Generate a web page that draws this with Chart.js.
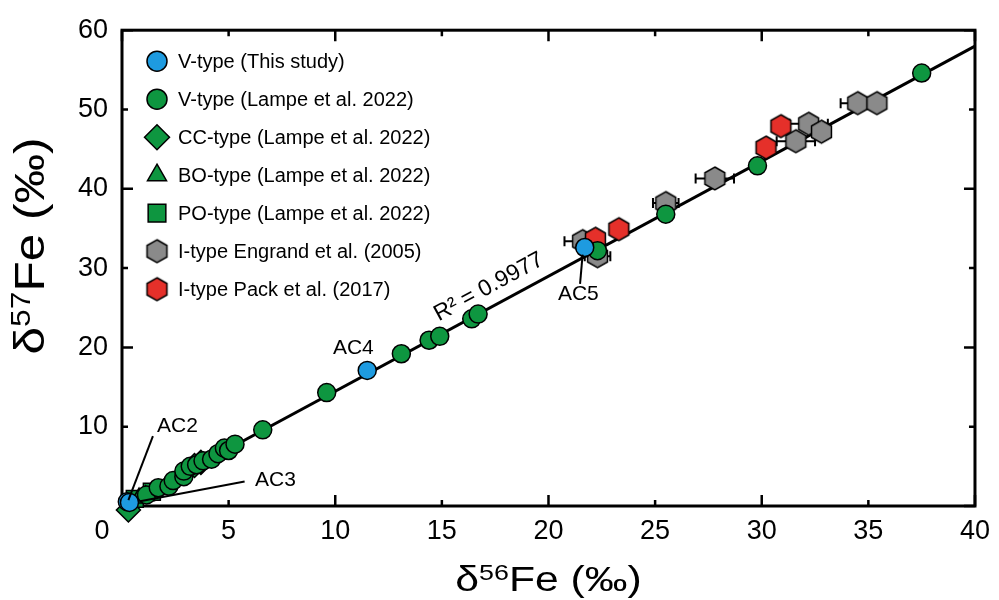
<!DOCTYPE html>
<html><head><meta charset="utf-8">
<script src="https://cdn.jsdelivr.net/npm/chart.js@4.4.1/dist/chart.umd.min.js"></script>
<style>html,body{margin:0;padding:0;background:#fff;}#wrap{width:999px;height:600px;}</style>
</head><body><div id="wrap"><canvas id="c" width="999" height="600"></canvas></div>
<script>
// ---- data ----
const seriesNames = ['V-type (This study)','V-type (Lampe et al. 2022)','CC-type (Lampe et al. 2022)','BO-type (Lampe et al. 2022)','PO-type (Lampe et al. 2022)','I-type Engrand et al. (2005)','I-type Pack et al. (2017)'];
const blueX = [0.25, 0.35, 11.5, 21.7];
const blueY = [0.55, 0.45, 17.1, 32.6];
const greenX = [1.15, 1.7, 2.2, 2.4, 2.9, 2.9, 3.2, 3.5, 3.8, 4.2, 4.5, 4.8, 5.0, 5.3, 6.6, 9.6, 13.1, 14.4, 14.9, 16.4, 16.7, 22.3, 25.5, 29.8, 37.5];
const greenY = [1.4, 2.3, 2.5, 3.2, 3.7, 4.4, 5.0, 5.2, 5.7, 5.9, 6.6, 7.3, 7.0, 7.8, 9.6, 14.3, 19.2, 20.9, 21.4, 23.6, 24.2, 32.2, 36.8, 42.9, 54.6];
const ccX = [0.3, 3.4, 3.7];
const ccY = [-0.5, 5.1, 5.5];
const boX = [0.8, 1.1];
const boY = [1.0, 1.3];
const poX = [0.6, 1.4];
const poY = [0.9, 1.8];
const grayX = [21.6, 22.3, 25.5, 27.8, 31.6, 32.2, 32.8, 34.5, 35.4];
const grayY = [33.4, 31.5, 38.2, 41.3, 46.0, 48.2, 47.2, 50.8, 50.8];
const grayErr = [0.85, 0.6, 0.6, 0.9, 0.9, 0.9, 0.3, 0.8, 0.3];
const redX = [22.2, 23.3, 30.2, 30.9];
const redY = [33.7, 34.9, 45.2, 47.9];
const trendX = [0.2, 40];
const trendY = [0.25, 58.0];
const xTickStep = 5, yTickStep = 10;
const r2Text = 'R² = 0.9977';
const xTitleParts = ['δ', '56', 'Fe (‰)'];
const yTitleParts = ['δ', '57', 'Fe (‰)'];

// ---- presentation ----
const FONT = "'Liberation Sans', Arial, Helvetica, sans-serif";
const C_BLUE = '#1E9BE0', C_GREEN = '#0E9640', C_GRAY = '#8A8A8A', C_RED = '#E5302A';
const pts = (xs, ys) => xs.map((x, i) => ({x, y: ys[i]}));

function hexImage(fill, r) {
  const s = Math.ceil(2 * r + 4);
  const c = document.createElement('canvas');
  c.width = s; c.height = s;
  const g = c.getContext('2d');
  g.beginPath();
  for (let i = 0; i < 6; i++) {
    const a = -Math.PI / 2 + i * Math.PI / 3;
    g.lineTo(s / 2 + r * Math.cos(a), s / 2 + r * Math.sin(a));
  }
  g.closePath();
  g.fillStyle = fill; g.fill();
  g.lineWidth = 1.5; g.strokeStyle = '#000'; g.stroke();
  return c;
}
const hexGray = hexImage(C_GRAY, 11.5);
const hexRed = hexImage(C_RED, 11.5);

const pointBase = {borderColor: '#000', borderWidth: 1.5, clip: false, showLine: false};
const datasets = [
  Object.assign({label: seriesNames[0], data: pts(blueX, blueY), pointStyle: 'circle', pointRadius: 9, backgroundColor: C_BLUE, order: 1}, pointBase),
  Object.assign({label: seriesNames[1], data: pts(greenX, greenY), pointStyle: 'circle', pointRadius: 9, backgroundColor: C_GREEN, order: 2}, pointBase),
  Object.assign({label: seriesNames[2], data: pts(ccX, ccY), pointStyle: 'rectRot', pointRadius: 12, backgroundColor: C_GREEN, order: 3}, pointBase),
  Object.assign({label: seriesNames[3], data: pts(boX, boY), pointStyle: 'triangle', pointRadius: 10, backgroundColor: C_GREEN, order: 4}, pointBase),
  Object.assign({label: seriesNames[4], data: pts(poX, poY), pointStyle: 'rect', pointRadius: 12, backgroundColor: C_GREEN, order: 5}, pointBase),
  Object.assign({label: seriesNames[5], data: pts(grayX, grayY), pointStyle: hexGray, pointRadius: 11, backgroundColor: C_GRAY, order: 7}, pointBase),
  Object.assign({label: seriesNames[6], data: pts(redX, redY), pointStyle: hexRed, pointRadius: 11, backgroundColor: C_RED, order: 6}, pointBase),
  {label: 'fit', data: pts(trendX, trendY), showLine: true, pointRadius: 0, borderColor: '#000', borderWidth: 3, fill: false, order: 100, clip: false}
];

// annotation anchors in data units (positions, not data)
const annotations = [
  {text: 'AC2', at: [2.6, 10.0], line: [[1.45, 8.8], [0.3, 0.75]]},
  {text: 'AC3', at: [7.2, 3.2], line: [[5.75, 3.1], [0.85, 0.6]]},
  {text: 'AC4', at: [10.85, 19.9], line: null},
  {text: 'AC5', at: [21.4, 26.7], line: [[21.48, 28.0], [21.6, 31.7]]}
];

function drawSupTitle(ctx, parts, size, stretch, cx, cy, rot) {
  const supSize = Math.round(size * 0.64);
  const fonts = [size + 'px ' + FONT, supSize + 'px ' + FONT, size + 'px ' + FONT];
  const rises = [0, size * 0.33, 0];
  const widths = parts.map((p, i) => { ctx.font = fonts[i]; return ctx.measureText(p).width; });
  const total = widths.reduce((a, b) => a + b, 0);
  ctx.save();
  ctx.translate(cx, cy);
  ctx.rotate(rot);
  ctx.scale(stretch, 1);
  ctx.textAlign = 'left';
  ctx.textBaseline = 'alphabetic';
  let x = -total / 2;
  const base = size * 0.27;
  parts.forEach((p, i) => {
    ctx.font = fonts[i];
    ctx.fillText(p, x, base - rises[i]);
    x += widths[i];
  });
  ctx.restore();
}

const framePlugin = {
  id: 'frame',
  beforeDatasetsDraw(chart) {
    const {ctx, chartArea: a, scales: {x, y}} = chart;
    ctx.save();
    ctx.strokeStyle = '#000';
    ctx.lineWidth = 2.5;
    x.ticks.forEach(t => {
      const px = x.getPixelForValue(t.value);
      const len = (t.value % 10 === 0) ? 11 : 6;
      ctx.beginPath();
      ctx.moveTo(px, a.bottom); ctx.lineTo(px, a.bottom - len);
      ctx.moveTo(px, a.top); ctx.lineTo(px, a.top + len);
      ctx.stroke();
    });
    y.ticks.forEach(t => {
      const py = y.getPixelForValue(t.value);
      const len = (t.value % 20 === 0) ? 11 : 6;
      ctx.beginPath();
      ctx.moveTo(a.left, py); ctx.lineTo(a.left + len, py);
      ctx.moveTo(a.right, py); ctx.lineTo(a.right - len, py);
      ctx.stroke();
    });
    ctx.lineWidth = 3;
    ctx.strokeRect(a.left, a.top, a.right - a.left, a.bottom - a.top);
    ctx.lineWidth = 2;
    grayX.forEach((gx, i) => {
      const e = grayErr[i];
      const x0 = x.getPixelForValue(gx - e), x1 = x.getPixelForValue(gx + e);
      const py = y.getPixelForValue(grayY[i]);
      ctx.beginPath();
      ctx.moveTo(x0, py); ctx.lineTo(x1, py);
      ctx.moveTo(x0, py - 5); ctx.lineTo(x0, py + 5);
      ctx.moveTo(x1, py - 5); ctx.lineTo(x1, py + 5);
      ctx.stroke();
    });
    ctx.restore();
  },
  afterDraw(chart) {
    const {ctx, chartArea: a, scales: {x, y}} = chart;
    ctx.save();
    ctx.fillStyle = '#000'; ctx.strokeStyle = '#000';
    // axis titles
    drawSupTitle(ctx, xTitleParts, 35, 1.22, (a.left + a.right) / 2, 582, 0);
    drawSupTitle(ctx, yTitleParts, 42, 1.18, 33, 246, -Math.PI / 2);
    // shared origin label
    ctx.font = '27px ' + FONT;
    ctx.textAlign = 'center'; ctx.textBaseline = 'middle';
    ctx.fillText('0', a.left - 20, a.bottom + 9 + 16.2);
    // annotations
    ctx.font = '21px ' + FONT;
    ctx.lineWidth = 2;
    annotations.forEach(an => {
      if (an.line) {
        ctx.beginPath();
        ctx.moveTo(x.getPixelForValue(an.line[0][0]), y.getPixelForValue(an.line[0][1]));
        ctx.lineTo(x.getPixelForValue(an.line[1][0]), y.getPixelForValue(an.line[1][1]));
        ctx.stroke();
      }
      ctx.fillText(an.text, x.getPixelForValue(an.at[0]), y.getPixelForValue(an.at[1]));
    });
    const ang = Math.atan2(y.getPixelForValue(trendY[1]) - y.getPixelForValue(trendY[0]),
                           x.getPixelForValue(trendX[1]) - x.getPixelForValue(trendX[0]));
    ctx.save();
    ctx.translate(x.getPixelForValue(17.2), y.getPixelForValue(27.6));
    ctx.rotate(ang);
    ctx.font = '23px ' + FONT;
    ctx.fillText(r2Text, 0, 0);
    ctx.restore();
    // legend
    const lx = a.left + 35, ty = a.top + 31, dy = 38;
    ctx.font = '20px ' + FONT;
    ctx.textAlign = 'left';
    chart.data.datasets.slice(0, 7).forEach((ds, i) => {
      const cy = ty + i * dy;
      ctx.fillStyle = ds.backgroundColor;
      ctx.strokeStyle = '#000';
      ctx.lineWidth = 1.5;
      let st = ds.pointStyle, r = 10;
      if (st === 'rectRot') r = 12.5;
      if (st === 'rect') r = 12.5;
      if (st === 'triangle') r = 11;
      Chart.helpers.drawPoint(ctx, {pointStyle: st, radius: r, rotation: 0, borderWidth: 1.5}, lx, cy);
      ctx.fillStyle = '#000';
      ctx.fillText(ds.label, lx + 21, cy + 1);
    });
    ctx.restore();
  }
};

new Chart(document.getElementById('c'), {
  type: 'scatter',
  data: {datasets},
  options: {
    responsive: false,
    animation: false,
    events: [],
    layout: {padding: {left: 0, top: 21, right: 18, bottom: 0}},
    plugins: {legend: {display: false}, tooltip: {enabled: false}},
    scales: {
      x: {
        type: 'linear', min: 0, max: 40,
        ticks: {stepSize: xTickStep, color: '#000', padding: 9, font: {family: FONT, size: 27},
                callback: v => v === 0 ? '' : v},
        grid: {display: false, drawTicks: false},
        border: {display: false},
        title: {display: false},
        afterFit: s => { s.height = 94; }
      },
      y: {
        type: 'linear', min: 0, max: 60,
        ticks: {stepSize: yTickStep, color: '#000', padding: 14, font: {family: FONT, size: 27},
                callback: v => v === 0 ? '' : v},
        grid: {display: false, drawTicks: false},
        border: {display: false},
        title: {display: false},
        afterFit: s => { s.width = 122; }
      }
    }
  },
  plugins: [framePlugin]
});
</script>
</body></html>
